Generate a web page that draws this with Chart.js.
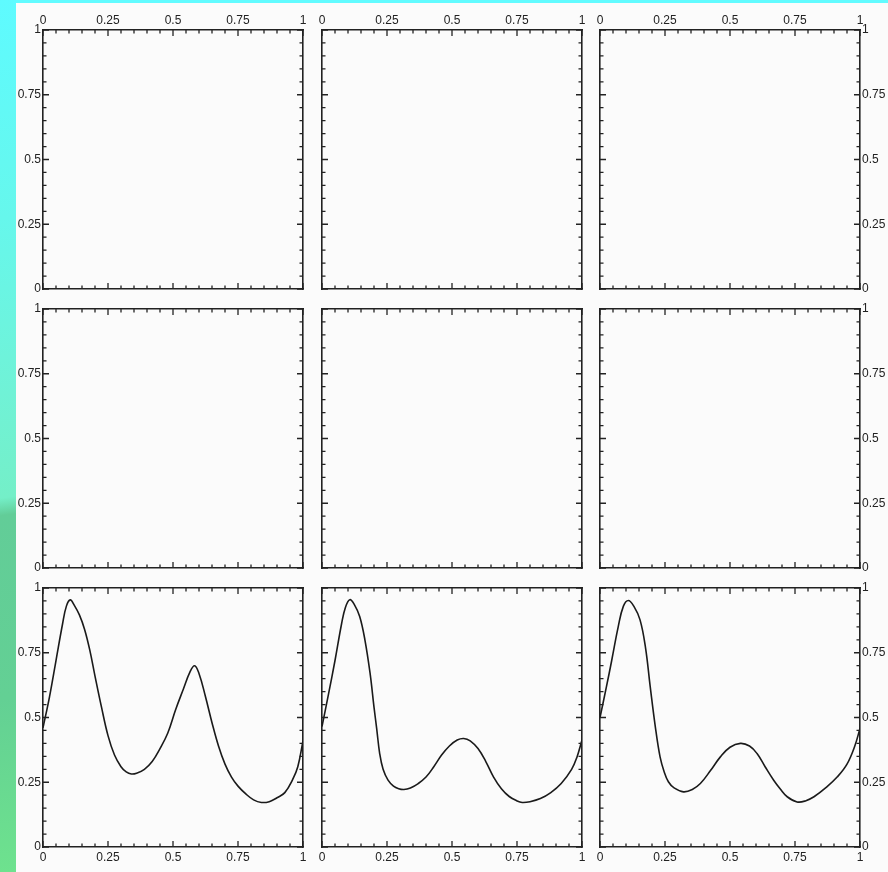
<!DOCTYPE html>
<html><head><meta charset="utf-8">
<script src="https://cdn.jsdelivr.net/npm/chart.js@4/dist/chart.umd.min.js"></script>
<style>
html,body{margin:0;padding:0;}
body{width:888px;height:872px;position:relative;overflow:hidden;background:#fbfbfb;}
#band{position:absolute;left:0;top:0;width:888px;height:3px;background:#62fbff;}
#strip{position:absolute;left:0;top:0;width:16px;height:872px;
 background:linear-gradient(172deg,#5efbff 0%,#66f7ec 25%,#70f2d6 45%,#74efc8 57%,#62cd98 59%,#63d094 80%,#6ee28e 100%);}
canvas{position:absolute;}
</style></head><body>
<div id="band"></div><div id="strip"></div>
<script>
// ---- data ----
const tickLabels = ['0', '0.25', '0.5', '0.75', '1'];
const tickValues = [0, 0.25, 0.5, 0.75, 1];
const minorStep = 0.05;

const curveAX = [0, 0.025, 0.05, 0.075, 0.09, 0.105, 0.12, 0.14, 0.16, 0.18, 0.2, 0.225, 0.25, 0.275, 0.3, 0.32, 0.34, 0.36, 0.39, 0.42, 0.45, 0.48, 0.51, 0.54, 0.565, 0.583, 0.6, 0.625, 0.65, 0.675, 0.7, 0.725, 0.75, 0.78, 0.81, 0.84, 0.87, 0.9, 0.93, 0.96, 0.98, 1];
const curveAY = [0.46, 0.58, 0.72, 0.86, 0.93, 0.954, 0.934, 0.896, 0.84, 0.76, 0.66, 0.54, 0.43, 0.355, 0.31, 0.29, 0.282, 0.285, 0.30, 0.33, 0.38, 0.44, 0.53, 0.61, 0.675, 0.70, 0.67, 0.58, 0.48, 0.39, 0.32, 0.27, 0.235, 0.205, 0.182, 0.172, 0.175, 0.19, 0.21, 0.26, 0.31, 0.41];

const curveBX = [0, 0.025, 0.05, 0.075, 0.09, 0.107, 0.125, 0.145, 0.165, 0.185, 0.2, 0.21, 0.222, 0.235, 0.254, 0.275, 0.295, 0.315, 0.34, 0.37, 0.4, 0.43, 0.46, 0.49, 0.52, 0.545, 0.57, 0.6, 0.63, 0.66, 0.69, 0.72, 0.75, 0.77, 0.8, 0.84, 0.88, 0.92, 0.96, 0.98, 1];
const curveBY = [0.465, 0.59, 0.72, 0.86, 0.925, 0.955, 0.935, 0.89, 0.80, 0.67, 0.54, 0.46, 0.36, 0.30, 0.258, 0.235, 0.225, 0.222, 0.228, 0.245, 0.27, 0.31, 0.355, 0.39, 0.413, 0.419, 0.41, 0.38, 0.33, 0.27, 0.225, 0.195, 0.178, 0.172, 0.175, 0.187, 0.21, 0.245, 0.30, 0.345, 0.413];

const curveCX = [0, 0.025, 0.045, 0.07, 0.09, 0.109, 0.13, 0.154, 0.175, 0.193, 0.212, 0.231, 0.247, 0.263, 0.285, 0.321, 0.355, 0.386, 0.425, 0.463, 0.5, 0.54, 0.575, 0.604, 0.635, 0.668, 0.695, 0.72, 0.758, 0.79, 0.823, 0.87, 0.913, 0.95, 0.98, 1];
const curveCY = [0.50, 0.62, 0.72, 0.85, 0.93, 0.952, 0.93, 0.877, 0.77, 0.62, 0.47, 0.348, 0.29, 0.252, 0.228, 0.213, 0.222, 0.245, 0.295, 0.348, 0.385, 0.40, 0.39, 0.361, 0.31, 0.258, 0.222, 0.194, 0.174, 0.178, 0.194, 0.23, 0.271, 0.32, 0.39, 0.458];

// panel contents: row-major, null = empty panel
const panelCurves = [
  null, null, null,
  null, null, null,
  [curveAX, curveAY], [curveBX, curveBY], [curveCX, curveCY]
];

// ---- layout ----
const colLeft = [43, 322, 600];
const rowTop = [30, 309, 588];
const PW = 260, PH = 259, MX = 40, MY = 30;
const AXIS = '#222';
const FONT = {family: "'Liberation Sans', Arial, Helvetica, sans-serif", size: 12};

const innerTicks = {
  id: 'innerTicks',
  afterDatasetsDraw(chart) {
    const {ctx, chartArea: a, scales} = chart;
    ctx.save();
    ctx.strokeStyle = AXIS;
    ctx.lineWidth = 1.3;
    ctx.beginPath();
    const n = Math.round(1 / minorStep);
    for (let i = 0; i <= n; i++) {
      const v = i * minorStep;
      const major = tickValues.some(t => Math.abs(t - v) < 1e-9);
      const L = major ? 6 : 3.5;
      const px = scales.x.getPixelForValue(v);
      const py = scales.y.getPixelForValue(v);
      ctx.moveTo(px, a.bottom); ctx.lineTo(px, a.bottom - L);
      ctx.moveTo(px, a.top); ctx.lineTo(px, a.top + L);
      ctx.moveTo(a.left, py); ctx.lineTo(a.left + L, py);
      ctx.moveTo(a.right, py); ctx.lineTo(a.right - L, py);
    }
    ctx.stroke();
    ctx.restore();
  }
};

function labelCb(v) {
  const i = tickValues.findIndex(t => Math.abs(t - v) < 1e-9);
  return i >= 0 ? tickLabels[i] : '';
}

function axis(pos, show, pad, fitFn) {
  return {
    type: 'linear', position: pos, min: 0, max: 1,
    grid: {display: false, drawTicks: false},
    border: {display: true, color: AXIS, width: 1.6},
    ticks: {display: show, stepSize: 0.25, padding: pad, color: '#222', font: FONT,
            callback: labelCb, autoSkip: false, maxRotation: 0},
    afterFit: fitFn
  };
}

for (let r = 0; r < 3; r++) {
  for (let c = 0; c < 3; c++) {
    const cv = document.createElement('canvas');
    cv.width = PW + 2 * MX; cv.height = PH + 2 * MY;
    cv.style.left = (colLeft[c] - MX) + 'px';
    cv.style.top = (rowTop[r] - MY) + 'px';
    cv.style.width = cv.width + 'px'; cv.style.height = cv.height + 'px';
    document.body.appendChild(cv);
    const curve = panelCurves[r * 3 + c];
    const datasets = curve ? [{
      data: curve[0].map((x, i) => ({x, y: curve[1][i]})),
      borderColor: '#1a1a1a', borderWidth: 1.6, pointRadius: 0,
      showLine: true, fill: false, tension: 0.4,
      xAxisID: 'x', yAxisID: 'y'
    }] : [];
    new Chart(cv, {
      type: 'scatter',
      data: {datasets},
      options: {
        responsive: false, animation: false, devicePixelRatio: 1,
        layout: {padding: 0},
        plugins: {legend: {display: false}, tooltip: {enabled: false}},
        scales: {
          x: axis('bottom', r === 2, 3, s => { s.height = MY; }),
          x2: axis('top', r === 0, 2, s => { s.height = MY; }),
          y: axis('left', c === 0, 2, s => { s.width = MX; }),
          y2: axis('right', c === 2, 2, s => { s.width = MX; })
        }
      },
      plugins: [innerTicks]
    });
  }
}
</script>
</body></html>
